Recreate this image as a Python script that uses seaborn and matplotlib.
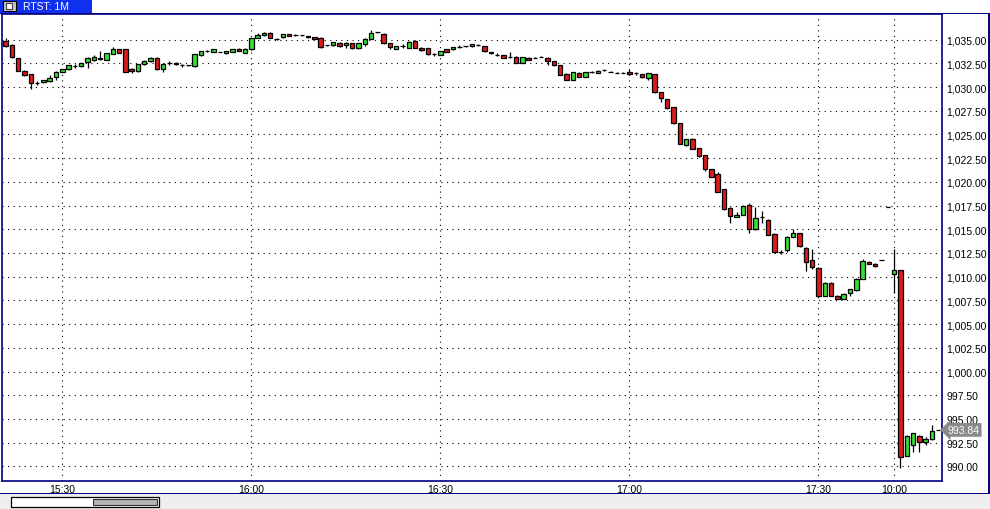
import matplotlib
matplotlib.use("Agg")
import numpy as np
import pandas as pd
import matplotlib.pyplot as plt
import matplotlib.transforms as mtransforms
from matplotlib.patches import Rectangle
import seaborn as sns

# 1-minute RTS candles
opens = [1034.85, 1034.45, 1033.05, 1031.75, 1031.35, 1030.4, 1030.5, 1030.6, 1031.1, 1031.6,
         1031.9, 1032.2, 1032.2, 1032.6, 1032.9, 1033.1, 1032.9, 1033.5, 1034.0, 1034.0,
         1031.9, 1031.65, 1032.4, 1032.7, 1033.1, 1031.9, 1032.55, 1032.55, 1032.3, 1032.3,
         1032.2, 1033.35, 1033.8, 1033.7, 1033.7, 1033.55, 1033.75, 1034.05, 1033.6, 1034.0,
         1035.2, 1035.45, 1035.75, 1035.1, 1035.25, 1035.6, 1035.5, 1035.45, 1035.35, 1035.25,
         1035.2, 1034.4, 1034.4, 1034.7, 1034.4, 1034.6, 1034.1, 1034.5, 1035.1, 1035.8,
         1035.65, 1034.6, 1034.05, 1034.3, 1034.15, 1034.9, 1034.15, 1034.1, 1033.45, 1033.4,
         1034.0, 1034.0, 1034.25, 1034.3, 1034.3, 1034.4, 1034.3, 1033.7, 1033.4, 1033.35,
         1033.2, 1033.2, 1032.55, 1033.1, 1033.1, 1033.2, 1033.1, 1032.7, 1032.3, 1031.4,
         1030.75, 1031.5, 1031.1, 1031.6, 1031.5, 1031.8, 1031.6, 1031.5, 1031.5, 1031.6,
         1031.45, 1031.35, 1031.0, 1031.35, 1029.45, 1028.7, 1027.9, 1026.2, 1023.85, 1024.55,
         1023.55, 1022.8, 1021.35, 1020.85, 1019.2, 1017.25, 1016.3, 1016.55, 1017.6, 1015.0,
         1016.3, 1016.0, 1014.55, 1012.6, 1012.8, 1014.2, 1014.6, 1013.05, 1011.8, 1010.95,
         1008.0, 1009.35, 1008.0, 1007.7, 1008.3, 1008.55, 1009.8, 1011.6, 1011.35, 1011.8,
         1017.3,
         1010.25, 1010.7, 991.1, 992.2, 993.2, 992.55, 992.85, 993.84]
highs = [1035.2, 1034.5, 1033.1, 1031.8, 1031.4, 1030.6, 1030.8, 1031.3, 1031.65, 1031.95,
         1032.35, 1032.4, 1032.55, 1033.15, 1033.4, 1033.8, 1033.6, 1034.2, 1034.05, 1034.05,
         1032.0, 1032.45, 1032.85, 1033.15, 1033.15, 1032.5, 1032.75, 1032.6, 1032.45, 1032.35,
         1033.5, 1033.85, 1033.95, 1034.05, 1033.75, 1033.85, 1034.05, 1034.1, 1034.1, 1035.2,
         1035.75, 1035.8, 1035.8, 1035.15, 1035.6, 1035.65, 1035.6, 1035.5, 1035.4, 1035.3,
         1035.25, 1034.45, 1034.8, 1034.75, 1034.8, 1034.65, 1034.65, 1035.15, 1036.05, 1035.85,
         1035.7, 1034.65, 1034.35, 1034.5, 1034.85, 1034.95, 1034.2, 1034.15, 1033.6, 1033.85,
         1034.05, 1034.25, 1034.4, 1034.35, 1034.55, 1034.55, 1034.35, 1033.75, 1033.55, 1033.4,
         1033.7, 1033.25, 1033.2, 1033.15, 1033.15, 1033.25, 1033.15, 1032.75, 1032.35, 1031.45,
         1031.6, 1031.55, 1031.6, 1031.75, 1031.8, 1031.9, 1031.65, 1031.55, 1031.55, 1031.9,
         1031.6, 1031.4, 1031.5, 1031.4, 1029.5, 1028.75, 1027.95, 1026.25, 1024.55, 1024.65,
         1023.6, 1022.85, 1021.4, 1021.0, 1019.25, 1017.3, 1016.85, 1017.55, 1017.8, 1017.4,
         1016.9, 1016.05, 1014.6, 1012.8, 1014.25, 1015.0, 1014.65, 1013.1, 1012.95, 1011.0,
         1009.4, 1009.4, 1008.05, 1008.25, 1008.75, 1009.85, 1011.9, 1011.65, 1011.4, 1011.8,
         1017.3,
         1012.95, 1010.75, 993.25, 993.55, 993.35, 993.05, 994.4, 993.84]
lows = [1034.2, 1033.1, 1031.7, 1031.2, 1029.85, 1030.2, 1030.45, 1030.55, 1030.8, 1031.55,
        1031.85, 1032.0, 1032.15, 1032.0, 1032.7, 1032.9, 1032.85, 1033.45, 1033.55, 1031.55,
        1031.5, 1031.6, 1032.35, 1032.65, 1031.85, 1031.6, 1032.35, 1032.35, 1032.1, 1032.25,
        1032.15, 1033.3, 1033.65, 1033.65, 1033.65, 1033.45, 1033.7, 1033.8, 1033.55, 1033.95,
        1035.15, 1035.4, 1035.15, 1034.95, 1035.2, 1035.35, 1035.4, 1035.4, 1035.2, 1035.05,
        1034.15, 1034.35, 1034.35, 1034.25, 1034.1, 1034.05, 1034.05, 1034.3, 1035.05, 1035.75,
        1034.55, 1034.0, 1034.0, 1034.1, 1034.1, 1034.1, 1033.85, 1033.35, 1033.3, 1033.35,
        1033.7, 1033.95, 1034.1, 1034.25, 1034.25, 1034.35, 1033.75, 1033.5, 1033.3, 1033.05,
        1033.1, 1032.5, 1032.5, 1032.85, 1033.05, 1033.15, 1032.3, 1032.25, 1031.25, 1030.75,
        1030.7, 1031.05, 1031.05, 1031.45, 1031.45, 1031.75, 1031.55, 1031.45, 1031.45, 1031.35,
        1031.3, 1031.0, 1030.7, 1029.4, 1028.45, 1027.7, 1026.15, 1023.95, 1023.8, 1023.45,
        1022.65, 1021.2, 1020.5, 1018.9, 1017.05, 1015.7, 1016.25, 1016.5, 1014.6, 1014.95,
        1015.7, 1014.4, 1012.55, 1012.4, 1012.6, 1014.15, 1013.15, 1010.55, 1010.8, 1007.9,
        1007.95, 1007.95, 1007.65, 1007.65, 1008.0, 1008.5, 1009.75, 1011.3, 1011.05, 1011.8,
        1017.3,
        1008.3, 989.8, 991.05, 991.55, 991.55, 992.3, 992.75, 993.84]
closes = [1034.35, 1033.15, 1031.75, 1031.25, 1030.4, 1030.4, 1030.75, 1031.0, 1031.6, 1031.9,
          1032.3, 1032.2, 1032.5, 1033.1, 1033.2, 1032.95, 1033.55, 1034.0, 1033.6, 1031.6,
          1031.65, 1032.4, 1032.8, 1033.1, 1031.9, 1032.45, 1032.55, 1032.4, 1032.3, 1032.3,
          1033.45, 1033.8, 1033.8, 1034.0, 1033.7, 1033.8, 1034.0, 1033.85, 1034.05, 1035.15,
          1035.5, 1035.75, 1035.2, 1035.1, 1035.55, 1035.4, 1035.5, 1035.45, 1035.25, 1035.1,
          1034.2, 1034.4, 1034.75, 1034.3, 1034.6, 1034.1, 1034.6, 1035.1, 1035.75, 1035.8,
          1034.6, 1034.2, 1034.3, 1034.3, 1034.8, 1034.15, 1033.9, 1033.5, 1033.45, 1033.8,
          1033.75, 1034.2, 1034.25, 1034.3, 1034.5, 1034.4, 1033.8, 1033.55, 1033.4, 1033.1,
          1033.2, 1032.55, 1033.15, 1032.9, 1033.1, 1033.2, 1032.7, 1032.3, 1031.3, 1030.8,
          1031.55, 1031.1, 1031.55, 1031.6, 1031.75, 1031.8, 1031.6, 1031.5, 1031.5, 1031.4,
          1031.45, 1031.05, 1031.45, 1029.45, 1028.9, 1027.8, 1026.2, 1024.0, 1024.5, 1023.5,
          1022.7, 1021.35, 1020.55, 1018.95, 1017.1, 1016.35, 1016.5, 1017.5, 1015.0, 1016.2,
          1016.3, 1014.45, 1012.6, 1012.6, 1014.2, 1014.6, 1013.2, 1011.6, 1011.05, 1008.0,
          1009.35, 1008.0, 1007.7, 1008.2, 1008.7, 1009.8, 1011.65, 1011.35, 1011.1, 1011.8,
          1017.3,
          1010.7, 990.95, 993.2, 993.5, 992.55, 992.9, 993.7, 993.84]

session1 = pd.date_range("2010-01-01 15:21", periods=141, freq="min")
session2 = pd.date_range("2010-01-02 10:00", periods=8, freq="min")
times = list(session1) + list(session2)
last_price = 993.84
title = "RTST: 1M"

df = pd.DataFrame({"time": times, "open": opens, "high": highs, "low": lows, "close": closes})
df["idx"] = np.arange(len(df))
df["up"] = df["close"] >= df["open"]

sns.set_style("white")
plt.rcParams["font.family"] = ["Liberation Sans", "DejaVu Sans"]

navy = "#000080"
red = "#dc1c1c"
green = "#33e033"

fig = plt.figure(figsize=(9.9, 5.1), dpi=100)
fig.patch.set_facecolor("white")
ax = fig.add_axes([2 / 990, 28 / 510, 940 / 990, 467 / 510])

# wicks
ax.vlines(df["idx"], df["low"], df["high"], color="black", linewidth=0.9, zorder=2)
# bodies
colors = np.where(df["up"], green, red)
ax.bar(df["idx"], df["close"] - df["open"], bottom=df["open"], width=0.7,
       color=colors, edgecolor="black", linewidth=0.9, zorder=3)

ax.set_xlim(-0.57, 148.6)
ax.set_ylim(988.45, 1037.71)

ticks = df.index[df["time"].dt.minute % 30 == 0]
ax.set_xticks(ticks)
ax.set_xticklabels(df.loc[ticks, "time"].dt.strftime("%H:%M"), fontsize=7.5)
yticks = np.arange(990, 1035.1, 2.5)
ax.set_yticks(yticks)
ax.yaxis.tick_right()
ax.set_yticklabels([f"{v:,.2f}" for v in yticks], fontsize=7.5)
ax.tick_params(axis="both", length=0, colors="black")
ax.tick_params(axis="y", pad=3)
ax.tick_params(axis="x", pad=2)
ax.grid(True, color="black", linestyle=(0, (1, 4)), linewidth=0.8)
for s in ax.spines.values():
    s.set_color(navy)
    s.set_linewidth(1.2)
ax.set_xlabel("")
ax.set_ylabel("")

# last price marker
trans = mtransforms.blended_transform_factory(ax.transAxes, ax.transData)
ax.text(1.006, last_price, f"{last_price:.2f}", transform=trans, color="white",
        fontsize=7.5, va="center", ha="left", clip_on=False, zorder=5,
        bbox=dict(boxstyle="larrow,pad=0.18", fc="#8a8a8a", ec="none"))

# window chrome: header tab, borders, scrollbar strip
W, H = 990, 510
def frect(x, y, w, h, **kw):
    fig.patches.append(Rectangle((x / W, 1 - (y + h) / H), w / W, h / H,
                                 transform=fig.transFigure, **kw))

frect(0, 0, 92, 14, fc="#1030f0", ec="none")
frect(3, 2, 13, 10, fc="#c8c8c8", ec="black", lw=0.8)
frect(6, 4, 6, 6, fc="white", ec="#404040", lw=0.8)
fig.text(23 / W, 1 - 7.5 / H, title, color="white", fontsize=7.5, va="center", ha="left")
frect(0, 14, 990, 1.2, fc=navy, ec="none")
frect(988, 14, 1.5, 481, fc=navy, ec="none")
frect(0, 494, 990, 16, fc="#efefef", ec="none")
frect(0, 494, 990, 1.2, fc=navy, ec="none")
frect(11, 497.5, 148, 10, fc="white", ec="black", lw=0.9)
frect(93, 499.5, 64, 6, fc="#b4b4b4", ec="#303030", lw=0.8)

fig.savefig("out.png", dpi=100, facecolor="white")
